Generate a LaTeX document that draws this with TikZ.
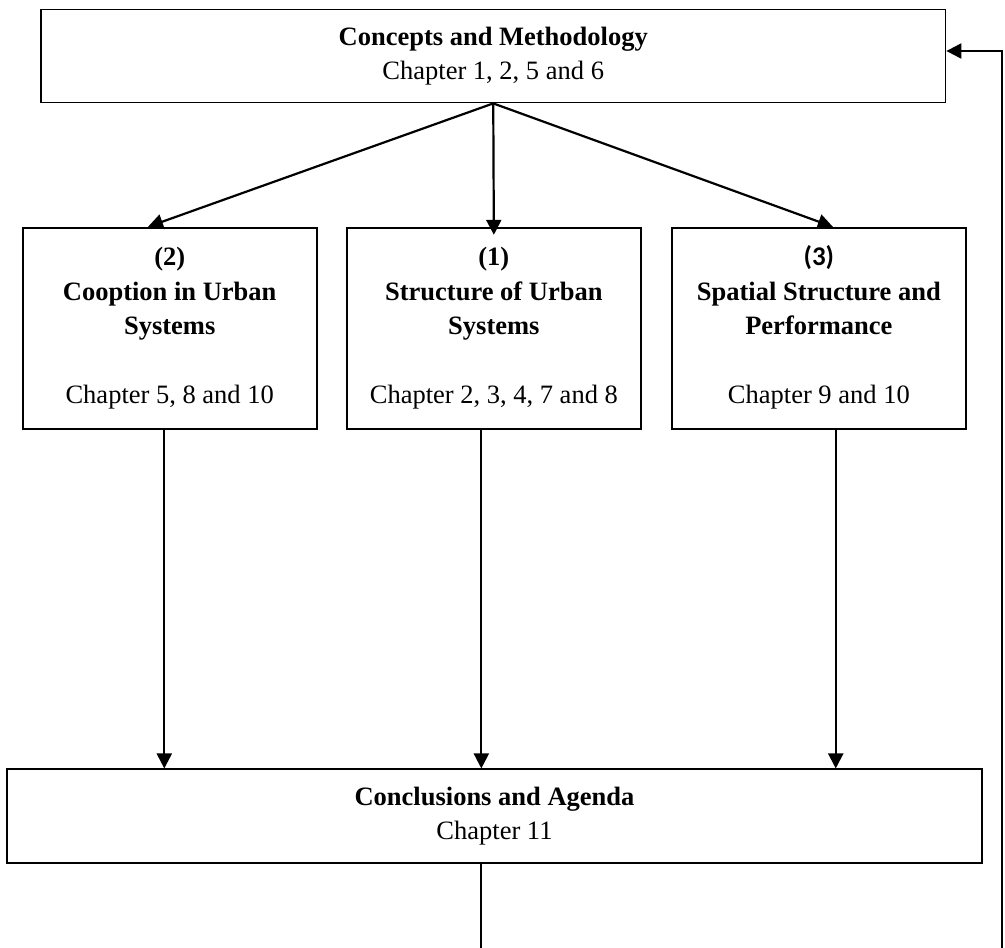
\documentclass[tikz,border=0pt]{standalone}
\usepackage{fontspec}
\setmainfont{Liberation Serif}
\newfontfamily\calib{Carlito}
\usetikzlibrary{arrows.meta}
\begin{document}
\begin{tikzpicture}[x=1pt,y=-1pt,
  box/.style={draw, line width=1.8pt, inner sep=0pt, align=center,
    font=\fontsize{26.5}{34.5}\selectfont},
  arr/.style={line width=2.2pt, -{Triangle[length=15pt,width=15pt]}}]
\path[use as bounding box] (0,0) rectangle (1005,948);
\clip (0,0) rectangle (1005,948);
% boxes
\node[box, minimum width=904.5pt, minimum height=93pt] (cm) at (493.25,56)
  {\textbf{Concepts and Methodology}\\Chapter 1, 2, 5 and 6};
\node[box, minimum width=294pt, minimum height=201.6pt] (coop) at (169.7,328.5)
  {\textbf{(2)}\\\textbf{Cooption in Urban}\\\textbf{Systems}\\[34.5pt]Chapter 5, 8 and 10};
\node[box, minimum width=294.3pt, minimum height=201.6pt] (struct) at (493.85,328.5)
  {\textbf{(1)}\\\textbf{Structure of Urban}\\\textbf{Systems}\\[34.5pt]Chapter 2, 3, 4, 7 and 8};
\node[box, minimum width=294.3pt, minimum height=201.6pt] (spat) at (818.85,328.5)
  {\smash{\calib\bfseries\fontsize{27}{34.5}\selectfont (3)}\vphantom{\textbf{(2)}}\\\textbf{Spatial Structure and}\\\textbf{Performance}\\[34.5pt]Chapter 9 and 10};
\node[box, minimum width=975pt, minimum height=93.7pt] (concl) at (494.5,816.2)
  {\textbf{Conclusions and Agenda}\\Chapter 11};
% arrows from top
\draw[arr] (cm.south) -- ([xshift=-21.7pt]coop.north);
\draw[arr] (cm.south) -- ([yshift=-8pt]struct.north);
\draw[arr] (cm.south) -- ([xshift=14pt]spat.north);
% arrows down
\draw[arr] ([xshift=-5.4pt]coop.south) -- ([xshift=-5.4pt]coop.south |- concl.north);
\draw[arr] ([xshift=-12.5pt]struct.south) -- ([xshift=-12.5pt]struct.south |- concl.north);
\draw[arr] ([xshift=16.9pt]spat.south) -- ([xshift=16.9pt]spat.south |- concl.north);
% feedback loop
\draw[arr] ([xshift=-13.5pt]concl.south) -- ++(0,130) -| ([xshift=55.5pt,yshift=5pt]cm.east) -- ([yshift=5pt]cm.east);
\end{tikzpicture}
\end{document}
